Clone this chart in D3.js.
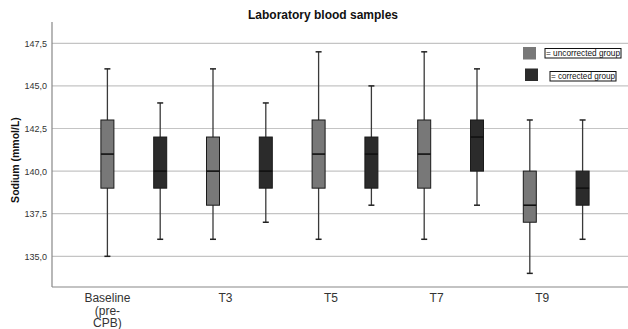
<!DOCTYPE html>
<html>
<head>
<meta charset="utf-8">
<script src="https://cdn.jsdelivr.net/npm/d3@7"></script>
<style>
  body { margin: 0; background: #fff; }
  svg { display: block; font-family: "Liberation Sans", Arial, sans-serif; }
</style>
</head>
<body>
<div id="chart"></div>
<script>
// time points and their labels
const timePoints = ["Baseline", "T3", "T5", "T7", "T9"];
const timeLabels = [["Baseline", "(pre-", "CPB)"], ["T3"], ["T5"], ["T7"], ["T9"]];
const groups = ["uncorrected", "corrected"];
const groupLabels = ["= uncorrected group", "= corrected group"];

// box stats per time point: [whiskerLow, q1, median, q3, whiskerHigh]
const uncorrected = [
    [135, 139, 141, 143, 146],
    [136, 138, 140, 142, 146],
    [136, 139, 141, 143, 147],
    [136, 139, 141, 143, 147],
    [134, 137, 138, 140, 143],
];
const corrected = [
    [136, 139, 140, 142, 144],
    [137, 139, 140, 142, 144],
    [138, 139, 141, 142, 145],
    [138, 140, 142, 143, 146],
    [136, 138, 139, 140, 143],
];
const yTicks = [135, 137.5, 140, 142.5, 145, 147.5];

const width = 628;
const height = 329;
const margin = { top: 22, right: 0, bottom: 42, left: 52 };
const colors = { uncorrected: "#787878", corrected: "#2b2b2b" };

const svg = d3.select("#chart")
    .append("svg")
    .attr("width", width)
    .attr("height", height);

const y = d3.scaleLinear()
    .domain([133.2, 148.75])
    .range([height - margin.bottom, margin.top]);

const x = d3.scaleBand()
    .domain(timePoints)
    .range([81, 609]);

const xGroup = d3.scaleBand()
    .domain(groups)
    .range([0, x.bandwidth()]);

// gridlines
svg.append("g")
    .selectAll("line")
    .data(yTicks)
    .enter()
    .append("line")
    .attr("x1", margin.left)
    .attr("x2", width)
    .attr("y1", d => y(d))
    .attr("y2", d => y(d))
    .attr("stroke", "#c4c4c4")
    .attr("stroke-width", 1.2);

// y axis
const yAxis = svg.append("g")
    .attr("transform", `translate(${margin.left},0)`)
    .call(d3.axisLeft(y).tickValues(yTicks).tickSize(0).tickPadding(5)
        .tickFormat(d => d3.format(".1f")(d).replace(".", ",")));
yAxis.select(".domain").remove();
yAxis.selectAll("text")
    .attr("font-size", 9)
    .attr("fill", "#333")
    .attr("font-family", "Liberation Sans, Arial, sans-serif");

// axis frame
svg.append("line")
    .attr("x1", margin.left).attr("x2", margin.left)
    .attr("y1", margin.top).attr("y2", height - margin.bottom)
    .attr("stroke", "#888").attr("stroke-width", 1.2);
svg.append("line")
    .attr("x1", margin.left).attr("x2", width)
    .attr("y1", height - margin.bottom).attr("y2", height - margin.bottom)
    .attr("stroke", "#888").attr("stroke-width", 1.2);

// boxes
const boxW = 13;
const capW = 6;
const boxData = [];
timePoints.forEach((t, i) => {
    boxData.push({ t, g: "uncorrected", s: uncorrected[i] });
    boxData.push({ t, g: "corrected", s: corrected[i] });
});

const boxes = svg.append("g")
    .selectAll("g")
    .data(boxData)
    .enter()
    .append("g")
    .attr("transform", d => `translate(${x(d.t) + xGroup(d.g) + xGroup.bandwidth() / 2},0)`);

boxes.append("line")
    .attr("y1", d => y(d.s[0])).attr("y2", d => y(d.s[4]))
    .attr("stroke", "#3a3a3a").attr("stroke-width", 1.3);
boxes.append("line")
    .attr("x1", -capW / 2).attr("x2", capW / 2)
    .attr("y1", d => y(d.s[0])).attr("y2", d => y(d.s[0]))
    .attr("stroke", "#222").attr("stroke-width", 1.5);
boxes.append("line")
    .attr("x1", -capW / 2).attr("x2", capW / 2)
    .attr("y1", d => y(d.s[4])).attr("y2", d => y(d.s[4]))
    .attr("stroke", "#222").attr("stroke-width", 1.5);
boxes.append("rect")
    .attr("x", -boxW / 2)
    .attr("width", boxW)
    .attr("y", d => y(d.s[3]))
    .attr("height", d => y(d.s[1]) - y(d.s[3]))
    .attr("fill", d => colors[d.g])
    .attr("stroke", "#1a1a1a")
    .attr("stroke-width", 1);
boxes.append("line")
    .attr("x1", -boxW / 2).attr("x2", boxW / 2)
    .attr("y1", d => y(d.s[2])).attr("y2", d => y(d.s[2]))
    .attr("stroke", "#111").attr("stroke-width", 1.6);

// x labels
const xLab = svg.append("g")
    .selectAll("text")
    .data(timePoints)
    .enter()
    .append("text")
    .attr("x", (d, i) => i === 0 ? x(d) + xGroup.bandwidth() / 2 : x(d) + x.bandwidth() / 2 - 14)
    .attr("y", height - margin.bottom + 15)
    .attr("text-anchor", "middle")
    .attr("font-size", 12)
    .attr("fill", "#333");
xLab.selectAll("tspan")
    .data((d, i) => timeLabels[i])
    .enter()
    .append("tspan")
    .attr("x", function () { return d3.select(this.parentNode).attr("x"); })
    .attr("dy", (d, i) => i === 0 ? 0 : 12.5)
    .text(d => d);

// y label
svg.append("text")
    .attr("transform", `translate(19,160) rotate(-90)`)
    .attr("text-anchor", "middle")
    .attr("font-size", 10.5)
    .attr("font-weight", "bold")
    .attr("fill", "#111")
    .text("Sodium (mmol/L)");

// title
svg.append("text")
    .attr("x", 323)
    .attr("y", 19)
    .attr("text-anchor", "middle")
    .attr("font-size", 12)
    .attr("font-weight", "bold")
    .attr("fill", "#111")
    .text("Laboratory blood samples");

// legend
const legendPos = [
    { sx: 523, sy: 47, bx: 545, by: 48.5, bw: 76, bh: 9.5 },
    { sx: 525, sy: 68.5, bx: 550, by: 71.5, bw: 66, bh: 9.5 },
];
const legend = svg.append("g")
    .selectAll("g")
    .data(groups)
    .enter()
    .append("g");
legend.append("rect")
    .attr("x", (d, i) => legendPos[i].sx)
    .attr("y", (d, i) => legendPos[i].sy)
    .attr("width", 13).attr("height", 12.5)
    .attr("fill", d => colors[d]);
legend.append("rect")
    .attr("x", (d, i) => legendPos[i].bx)
    .attr("y", (d, i) => legendPos[i].by)
    .attr("width", (d, i) => legendPos[i].bw)
    .attr("height", (d, i) => legendPos[i].bh)
    .attr("fill", "#fff")
    .attr("stroke", "#111")
    .attr("stroke-width", 1);
legend.append("text")
    .attr("x", (d, i) => legendPos[i].bx + 1)
    .attr("y", (d, i) => legendPos[i].by + 7.8)
    .attr("font-size", 8.4)
    .attr("fill", "#111")
    .attr("textLength", (d, i) => legendPos[i].bw - 2)
    .attr("lengthAdjust", "spacingAndGlyphs")
    .text((d, i) => groupLabels[i]);
</script>
</body>
</html>
